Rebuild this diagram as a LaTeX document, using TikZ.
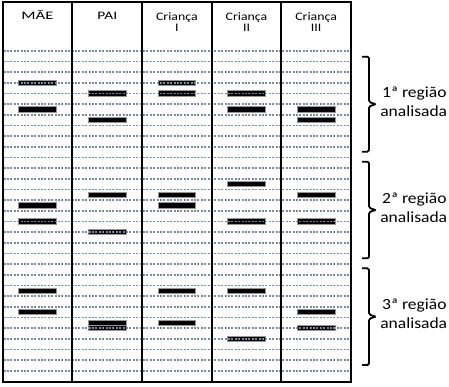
\documentclass[tikz,border=0pt]{standalone}
\usepackage{fontspec}
\setmainfont{Carlito}
\definecolor{dotc}{RGB}{118,138,170}
\definecolor{bandedge}{RGB}{150,150,150}
\begin{document}
\begin{tikzpicture}[x=1pt,y=-1pt,
  band/.style={fill=black,draw=bandedge,line width=0.5pt},
  dotline/.style={draw=dotc,line width=1.7pt,dash pattern=on 2pt off 1.4pt},
  frameline/.style={draw=black,line width=2pt},
  bracepath/.style={draw=black,line width=1.8pt,rounded corners=1.5pt},
  head/.style={anchor=base,inner sep=0pt,font=\fontsize{11.5}{13}\selectfont},
  reglabel/.style={anchor=base,inner sep=0pt,font=\fontsize{15.5}{18}\selectfont}]
\useasboundingbox (0,0) rectangle (449,386);
\fill[white] (0,0) rectangle (449,386);
% bands
\foreach \c/\i in {0/3,0/5.5,0/14.5,0/16,0/22.5,0/24.5,
                   1/4,1/6.5,1/13.5,1/17,1/25.5,1/26,
                   2/3,2/4,2/13.5,2/14.5,2/22.5,2/25.5,
                   3/4,3/5.5,3/12.5,3/16,3/22.5,3/27,
                   4/5.5,4/6.5,4/13.5,4/16,4/24.5,4/26}
  \path[band] ({2.7+69.6*\c+16},{50.7+10.667*\i-2.65}) rectangle ++(37.7,5.3);
% dotted lines
\foreach \i in {0,...,30}
  \draw[dotline] (3.5,{50.7+10.667*\i}) -- (350,{50.7+10.667*\i});
% frame
\draw[frameline] (2.7,1.7) rectangle (350.7,382.3);
\foreach \c in {1,2,3,4}
  \draw[frameline] ({2.7+69.6*\c},1.7) -- ({2.7+69.6*\c},382.3);
% headers
\node[head] (mae) at (37.5,19.5) {\scalebox{1.45}[1]{MÃE}};
\node[head] (pai) at (107.3,19.5) {\scalebox{1.34}[1]{PAI}};
\node[head] (c1) at (176.9,20) {\scalebox{1.2}[1]{Criança}};
\node[head] (c1n) at (176.9,31) {\scalebox{1.2}[1]{I}};
\node[head] (c2) at (246.5,20) {\scalebox{1.2}[1]{Criança}};
\node[head] (c2n) at (246.5,31) {\scalebox{1.2}[1]{II}};
\node[head] (c3) at (316.1,20) {\scalebox{1.2}[1]{Criança}};
\node[head] (c3n) at (316.1,31) {\scalebox{1.2}[1]{III}};
% braces and labels
\foreach \t/\b/\n in {56.7/151.7/1, 161.7/258.3/2, 268.3/365/3}{
  \pgfmathsetmacro{\m}{(\t+\b)/2}
  \draw[bracepath] (362,\t) -- (369,\t) -- (369,\m-2.2) -- (375.5,\m);
  \draw[bracepath] (375.5,\m) -- (369,\m+2.2) -- (369,\b) -- (362,\b);
  \node[reglabel] (r\n a) at (414.3,\m-6.8) {\scalebox{1.13}[1]{\n ª região}};
  \node[reglabel] (r\n b) at (413.7,\m+12.3) {\scalebox{1.13}[1]{analisada}};
}
\end{tikzpicture}
\end{document}
